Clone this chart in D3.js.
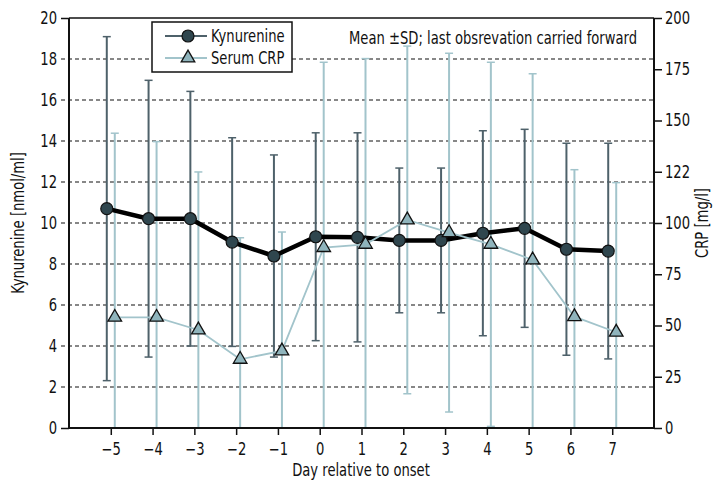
<!DOCTYPE html>
<html><head><meta charset="utf-8">
<script src="https://cdn.jsdelivr.net/npm/d3@7"></script>
<style>
html,body{margin:0;padding:0;background:#fff;}
svg text{font-family:"DejaVu Sans Condensed","DejaVu Sans",sans-serif;font-stretch:condensed;fill:#111;}
</style></head>
<body><svg id="c" width="720" height="484"></svg>
<script>
const days = [-5,-4,-3,-2,-1,0,1,2,3,4,5,6,7];
const dayLabels = ["\u22125","\u22124","\u22123","\u22122","\u22121","0","1","2","3","4","5","6","7"];
const kynMean = [10.70,10.21,10.21,9.07,8.39,9.33,9.30,9.15,9.15,9.50,9.74,8.72,8.63];
const kynSD   = [8.39,6.75,6.21,5.09,4.93,5.07,5.10,3.53,3.53,5.00,4.83,5.17,5.26];
const crpMean = [54.0,54.0,47.8,33.5,37.6,88.0,89.6,101.5,95.3,89.6,82.0,54.3,46.7];
const crpSD   = [89.8,85.7,77.1,59.3,58.0,90.4,90.6,84.8,87.5,88.8,90.8,71.7,73.0];
const leftTicks = [0,2,4,6,8,10,12,14,16,18,20];
const rightTicks = [0,25,50,75,100,125,150,175,200];
const rightTickLabels = ["0","25","50","75","100","122","150","175","200"];

const svg = d3.select("#c");
const L=69, R=654, T=18, B=428;
const x = d3.scaleLinear().domain([-6,8]).range([L,R]);
const yL = d3.scaleLinear().domain([0,20]).range([B,T]);
const yR = d3.scaleLinear().domain([0,200]).range([B,T]);
const off = 4;
const SX = 0.86;

const kynColor="#4e616a", kynFill="#2f464e", crpColor="#a2c4cb", crpFill="#8fb4bc";

svg.append("g").selectAll("line").data(leftTicks.filter(d=>d>0&&d<20)).join("line")
  .attr("x1",L-8).attr("x2",R).attr("y1",d=>yL(d)).attr("y2",d=>yL(d))
  .attr("stroke","#111").attr("stroke-width",1.2).attr("stroke-dasharray","4,3");

const gL = svg.append("g").attr("transform",`translate(${L},0)`)
  .call(d3.axisLeft(yL).tickValues(leftTicks).tickSize(8).tickPadding(4));
gL.select(".domain").remove();
gL.selectAll(".tick line").attr("stroke",d=>(d===0||d===20)?"#111":"none").attr("stroke-width",1.5);
gL.selectAll(".tick text").style("font-size","17px").attr("fill","#111");

const gR = svg.append("g").attr("transform",`translate(${R},0)`)
  .call(d3.axisRight(yR).tickValues(rightTicks).tickSize(8).tickPadding(3)
    .tickFormat((d,i)=>rightTickLabels[i]));
gR.select(".domain").remove();
gR.selectAll(".tick line").attr("stroke","#111").attr("stroke-width",1.5);
gR.selectAll(".tick text").style("font-size","17px").attr("fill","#111");

const gB = svg.append("g").attr("transform",`translate(0,${B})`)
  .call(d3.axisBottom(x).tickValues(days).tickSize(7).tickPadding(8)
    .tickFormat((d,i)=>dayLabels[i]));
gB.select(".domain").remove();
gB.selectAll(".tick line").attr("stroke","#111").attr("stroke-width",1.5);
gB.selectAll(".tick text").style("font-size","17px").attr("fill","#111");

const crpLo = crpMean.map((m,i)=>Math.max(0,m-crpSD[i]));
const crpHi = crpMean.map((m,i)=>m+crpSD[i]);
const ge1 = svg.append("g").attr("stroke",crpColor).attr("stroke-width",2).attr("fill","none");
days.forEach((d,i)=>{
  const cx = x(d)+off;
  ge1.append("line").attr("x1",cx).attr("x2",cx).attr("y1",yR(crpLo[i])).attr("y2",yR(crpHi[i]));
  ge1.append("line").attr("x1",cx-4).attr("x2",cx+4).attr("y1",yR(crpHi[i])).attr("y2",yR(crpHi[i])).attr("stroke-width",1.5);
  ge1.append("line").attr("x1",cx-4).attr("x2",cx+4).attr("y1",yR(crpLo[i])).attr("y2",yR(crpLo[i])).attr("stroke-width",1.5);
});
const ge2 = svg.append("g").attr("stroke",kynColor).attr("stroke-width",2).attr("fill","none");
days.forEach((d,i)=>{
  const cx = x(d)-off, lo=kynMean[i]-kynSD[i], hi=kynMean[i]+kynSD[i];
  ge2.append("line").attr("x1",cx).attr("x2",cx).attr("y1",yL(lo)).attr("y2",yL(hi));
  ge2.append("line").attr("x1",cx-4).attr("x2",cx+4).attr("y1",yL(hi)).attr("y2",yL(hi)).attr("stroke-width",1.5);
  ge2.append("line").attr("x1",cx-4).attr("x2",cx+4).attr("y1",yL(lo)).attr("y2",yL(lo)).attr("stroke-width",1.5);
});

svg.append("line").attr("x1",L).attr("x2",L).attr("y1",T).attr("y2",B).attr("stroke","#111").attr("stroke-width",2);
svg.append("line").attr("x1",R).attr("x2",R).attr("y1",T).attr("y2",B).attr("stroke","#111").attr("stroke-width",2);
svg.append("line").attr("x1",L).attr("x2",R).attr("y1",T).attr("y2",T).attr("stroke","#111").attr("stroke-width",1.5);
svg.append("line").attr("x1",L-1).attr("x2",R+1).attr("y1",B).attr("y2",B).attr("stroke","#111").attr("stroke-width",2);

svg.append("path").datum(days.map((d,i)=>[x(d)-off,yL(kynMean[i])]))
  .attr("d",d3.line()).attr("fill","none").attr("stroke","#000").attr("stroke-width",4.5).attr("stroke-linejoin","round");
svg.append("g").selectAll("circle").data(days).join("circle")
  .attr("cx",d=>x(d)-off).attr("cy",(d,i)=>yL(kynMean[i])).attr("r",6)
  .attr("fill",kynFill).attr("stroke","#111").attr("stroke-width",1.2);

svg.append("path").datum(days.map((d,i)=>[x(d)+off,yR(crpMean[i])]))
  .attr("d",d3.line()).attr("fill","none").attr("stroke",crpColor).attr("stroke-width",1.8);
const tri = d3.symbol().type(d3.symbolTriangle).size(80);
svg.append("g").selectAll("path").data(days).join("path")
  .attr("d",tri).attr("transform",(d,i)=>`translate(${x(d)+off},${yR(crpMean[i])})`)
  .attr("fill",crpFill).attr("stroke","#111").attr("stroke-width",1.3);

const lg = svg.append("g");
lg.append("rect").attr("x",152).attr("y",22).attr("width",140).attr("height",50)
  .attr("fill","#fff").attr("stroke","#111").attr("stroke-width",1.5);
lg.append("line").attr("x1",165).attr("x2",207).attr("y1",36).attr("y2",36).attr("stroke",kynColor).attr("stroke-width",2);
lg.append("circle").attr("cx",188).attr("cy",36).attr("r",6).attr("fill",kynFill).attr("stroke","#111").attr("stroke-width",1.2);
lg.append("text").attr("x",211).attr("y",36).attr("dy","0.35em").style("font-size","17px").text("Kynurenine");
lg.append("line").attr("x1",165).attr("x2",207).attr("y1",58).attr("y2",58).attr("stroke",crpColor).attr("stroke-width",2);
lg.append("path").attr("d",tri).attr("transform","translate(188,58)").attr("fill",crpFill).attr("stroke","#111").attr("stroke-width",1.3);
lg.append("text").attr("x",211).attr("y",58).attr("dy","0.35em").style("font-size","17px").text("Serum CRP");

svg.append("text").attr("x",637).attr("y",44).attr("text-anchor","end").style("font-size","17px")
  .text("Mean \u00B1SD; last obsrevation carried forward");

// condense all horizontal text around its anchor x
svg.selectAll("text").each(function(){
  const t = d3.select(this);
  if (t.attr("transform")) return;
  const xx = +t.attr("x") || 0;
  t.attr("transform",`translate(${xx},0) scale(${SX},1) translate(${-xx},0)`);
});

svg.append("text").attr("transform",`translate(24,223) rotate(-90) scale(${SX},1)`).attr("text-anchor","middle")
  .style("font-size","17px").text("Kynurenine [nmol/ml]");
svg.append("text").attr("transform",`translate(708,223) rotate(-90) scale(${SX},1)`).attr("text-anchor","middle")
  .style("font-size","17px").text("CRP [mg/l]");
svg.append("text").attr("transform",`translate(361,476) scale(${SX},1)`).attr("text-anchor","middle")
  .style("font-size","17px").text("Day relative to onset");
</script></body></html>
